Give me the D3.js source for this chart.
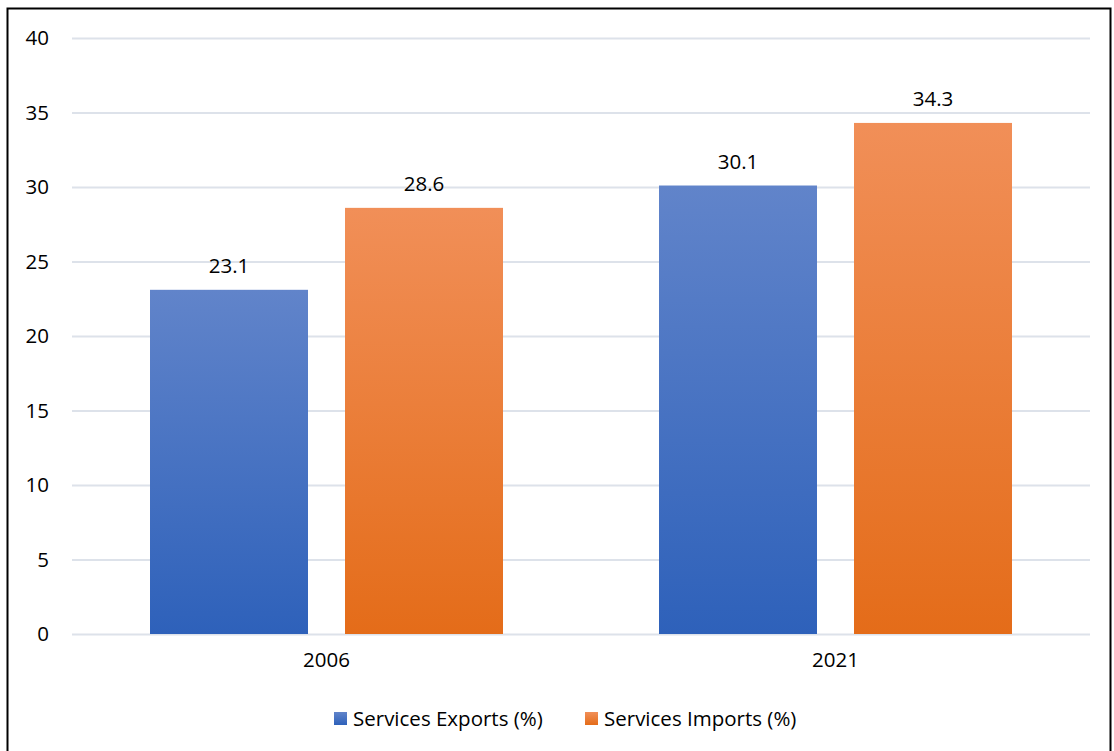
<!DOCTYPE html>
<html>
<head>
<meta charset="utf-8">
<script src="https://cdn.jsdelivr.net/npm/d3@7"></script>
<style>
  html, body { margin: 0; padding: 0; background: #fff; }
  svg { display: block; }
  text { font-family: "Open Sans", sans-serif; fill: #000; }
</style>
</head>
<body>
<svg id="chart" width="1114" height="751"></svg>
<script>
// Service trade shares by year
const years = ["2006", "2021"];
const seriesNames = ["Services Exports (%)", "Services Imports (%)"];
const exportsPct = [23.1, 30.1];
const importsPct = [28.6, 34.3];
const yTicks = [0, 5, 10, 15, 20, 25, 30, 35, 40];

const seriesValues = [exportsPct, importsPct];
const gradients = [
  { id: "gradBlue", top: "#6184ca", bottom: "#2e61ba" },
  { id: "gradOrange", top: "#f18f58", bottom: "#e46c19" }
];

const FONT = "'Open Sans', sans-serif";
const FS = 20.5;
const svg = d3.select("#chart");
const plot = { left: 72, right: 1090, top: 38, bottom: 634 };

// outer frame
svg.append("rect")
  .attr("x", 7.5).attr("y", 8.5)
  .attr("width", 1103).attr("height", 760)
  .attr("fill", "none").attr("stroke", "#000").attr("stroke-width", 2);

const defs = svg.append("defs");
gradients.forEach(g => {
  const lg = defs.append("linearGradient")
    .attr("id", g.id).attr("x1", 0).attr("y1", 0).attr("x2", 0).attr("y2", 1);
  lg.append("stop").attr("offset", "0%").attr("stop-color", g.top);
  lg.append("stop").attr("offset", "100%").attr("stop-color", g.bottom);
});

const y = d3.scaleLinear().domain([0, 40]).range([plot.bottom, plot.top]);
const x0 = d3.scaleBand().domain(years).range([plot.left, plot.right]);
// two 158px bars with a 37px gap, centred in each category band
const groupW = 158 * 2 + 37;
const x1 = d3.scaleBand().domain(d3.range(seriesNames.length))
  .range([(x0.bandwidth() - groupW) / 2, (x0.bandwidth() + groupW) / 2])
  .paddingInner(37 / 195);

// gridlines and value axis
const yAxis = d3.axisLeft(y).tickValues(yTicks).tickSize(-(plot.right - plot.left)).tickPadding(23);
const gy = svg.append("g").attr("transform", `translate(${plot.left},0)`).call(yAxis);
gy.select(".domain").remove();
gy.selectAll(".tick line").attr("stroke", "#dde2ea").attr("stroke-width", 2);
gy.selectAll(".tick text").attr("font-size", FS).style("font-family", FONT).attr("fill", "#000");

// bars with value labels
const groups = svg.append("g").selectAll("g").data(years).join("g")
  .attr("transform", d => `translate(${x0(d)},0)`);

groups.each(function(year, yi) {
  const g = d3.select(this);
  seriesValues.forEach((vals, si) => {
    const v = vals[yi];
    g.append("rect")
      .attr("x", x1(si)).attr("width", x1.bandwidth())
      .attr("y", y(v)).attr("height", y(0) - y(v))
      .attr("fill", `url(#${gradients[si].id})`);
    g.append("text")
      .attr("x", x1(si) + x1.bandwidth() / 2)
      .attr("y", y(v) - 17)
      .attr("text-anchor", "middle")
      .attr("font-size", FS)
      .text(v.toFixed(1));
  });
});

// category axis labels
const xAxis = d3.axisBottom(x0).tickSize(0).tickPadding(18);
const gx = svg.append("g").attr("transform", `translate(0,${plot.bottom})`).call(xAxis);
gx.select(".domain").remove();
gx.selectAll(".tick text").attr("font-size", FS).style("font-family", FONT).attr("fill", "#000");

// legend
const legendX = [334, 585];
const legend = svg.append("g");
seriesNames.forEach((name, i) => {
  legend.append("rect")
    .attr("x", legendX[i]).attr("y", 712).attr("width", 13).attr("height", 13)
    .attr("fill", `url(#${gradients[i].id})`);
  legend.append("text")
    .attr("x", legendX[i] + 19).attr("y", 726)
    .attr("font-size", FS)
    .text(name);
});
</script>
</body>
</html>
